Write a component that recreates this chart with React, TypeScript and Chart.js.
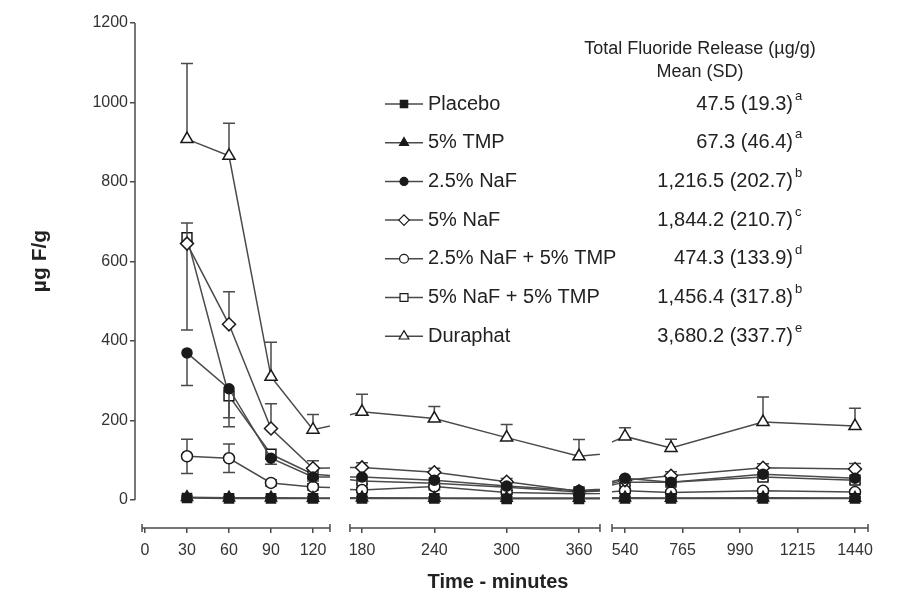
import React, { useEffect, useRef } from 'react';
import { Chart, registerables } from 'chart.js';
import { drawPoint } from 'chart.js/helpers';

Chart.register(...registerables);

// ---------------- data ----------------
const times = [30, 60, 90, 120, 180, 240, 300, 360, 540, 720, 1080, 1440];

const seriesNames = [
  'Placebo',
  '5% TMP',
  '2.5% NaF',
  '5% NaF',
  '2.5% NaF + 5% TMP',
  '5% NaF + 5% TMP',
  'Duraphat',
];

const placebo = [5, 4, 4, 4, 4, 4, 3, 3, 4, 4, 4, 4];
const placeboSD = [2, 2, 2, 2, 2, 2, 2, 2, 2, 2, 2, 2];
const tmp = [7, 6, 6, 5, 6, 5, 5, 5, 6, 5, 6, 5];
const tmpSD = [3, 3, 3, 3, 3, 3, 3, 3, 3, 3, 3, 3];
const naf25 = [370, 280, 105, 58, 58, 50, 35, 24, 55, 45, 65, 55];
const naf25SD = [82, 73, 15, 10, 10, 8, 8, 5, 8, 8, 10, 8];
const naf5 = [645, 442, 180, 80, 82, 70, 46, 22, 50, 61, 81, 78];
const naf5SD = [52, 82, 62, 19, 12, 10, 8, 5, 8, 10, 10, 14];
const naf25tmp = [110, 105, 43, 33, 25, 34, 19, 16, 23, 19, 23, 20];
const naf25tmpSD = [43, 36, 8, 8, 6, 8, 5, 4, 6, 5, 6, 5];
const naf5tmp = [660, 262, 115, 65, 48, 42, 32, 20, 45, 45, 58, 50];
const naf5tmpSD = [232, 78, 12, 10, 8, 8, 6, 5, 8, 8, 8, 8];
const duraphat = [908, 866, 310, 177, 222, 205, 157, 110, 160, 131, 196, 186];
const duraphatSD = [190, 82, 87, 38, 44, 30, 33, 42, 22, 22, 63, 45];

const totals = [
  '47.5 (19.3)',
  '67.3 (46.4)',
  '1,216.5 (202.7)',
  '1,844.2 (210.7)',
  '474.3 (133.9)',
  '1,456.4 (317.8)',
  '3,680.2 (337.7)',
];
const totalSup = ['a', 'a', 'b', 'c', 'd', 'b', 'e'];

const xTicks1 = [0, 30, 60, 90, 120];
const xTicks2 = [180, 240, 300, 360];
const xTicks3 = [540, 765, 990, 1215, 1440];
const yTicks = [0, 200, 400, 600, 800, 1000, 1200];

const tableHeader1 = 'Total Fluoride Release (µg/g)';
const tableHeader2 = 'Mean (SD)';
const yTitle = 'µg F/g';
const xTitle = 'Time - minutes';

const seriesValues = [placebo, tmp, naf25, naf5, naf25tmp, naf5tmp, duraphat];
const seriesSD = [placeboSD, tmpSD, naf25SD, naf5SD, naf25tmpSD, naf5tmpSD, duraphatSD];

// ---------------- styles / layout ----------------
const FONT = '"Liberation Sans", Arial, Helvetica, sans-serif';
const LINE = '#4a4a4a';
const MARK = '#1a1a1a';
const TEXT = '#222';

const markerStyles = [
  { pointStyle: 'rect', radius: 6.5, fill: MARK, dir: 'both' },
  { pointStyle: 'triangle', radius: 6.5, fill: MARK, dir: 'both' },
  { pointStyle: 'circle', radius: 5, fill: MARK, dir: 'below' },
  { pointStyle: 'rectRot', radius: 6.5, fill: '#fff', dir: 'above' },
  { pointStyle: 'circle', radius: 5.5, fill: '#fff', dir: 'both' },
  { pointStyle: 'rect', radius: 7, fill: '#fff', dir: 'below' },
  { pointStyle: 'triangle', radius: 7, fill: '#fff', dir: 'above' },
];

const segments = [
  { id: 'x1', ticks: xTicks1, min: -7.14, max: 139.29, lineMin: -2.1, lineMax: 132.1, weight: 205 },
  { id: 'x2', ticks: xTicks2, min: 161.75, max: 382.4, lineMin: 170.0, lineMax: 377.4, weight: 266 },
  { id: 'x3', ticks: xTicks3, min: 465.65, max: 1545.6, lineMin: 489.1, lineMax: 1490.9, weight: 276 },
];
const segById: Record<string, any> = {};
segments.forEach((s) => (segById[s.id] = s));

function buildDatasets() {
  const out: any[] = [];
  seriesNames.forEach((name, si) => {
    const st = markerStyles[si];
    segments.forEach((seg) => {
      const idx = times
        .map((_, i) => i)
        .filter((i) => times[i] >= seg.lineMin && times[i] <= seg.lineMax);
      const first = Math.max(0, idx[0] - 1);
      const last = Math.min(times.length - 1, idx[idx.length - 1] + 1);
      const pts: any[] = [];
      const sds: number[] = [];
      for (let i = first; i <= last; i++) {
        pts.push({ x: times[i], y: seriesValues[si][i] });
        sds.push(seriesSD[si][i]);
      }
      out.push({
        label: name,
        data: pts,
        sd: sds,
        errDir: st.dir,
        xAxisID: seg.id,
        yAxisID: 'y',
        borderColor: LINE,
        borderWidth: 1.5,
        pointStyle: st.pointStyle,
        pointRadius: st.radius,
        pointBackgroundColor: st.fill,
        pointBorderColor: MARK,
        pointBorderWidth: 1.5,
        tension: 0,
        fill: false,
      });
    });
  });
  return out;
}

const CAP = 6;

const customPlugin = {
  id: 'brokenAxes',
  beforeDatasetDraw(chart: any, args: any) {
    const ds = chart.data.datasets[args.index];
    const seg = segById[ds.xAxisID];
    const xs = chart.scales[ds.xAxisID];
    const ys = chart.scales.y;
    const ctx = chart.ctx;
    ctx.save();
    const l = xs.getPixelForValue(seg.lineMin);
    const r = xs.getPixelForValue(seg.lineMax);
    ctx.beginPath();
    ctx.rect(l, 0, r - l, chart.height);
    ctx.clip();
    ctx.strokeStyle = LINE;
    ctx.lineWidth = 1.5;
    ds.data.forEach((p: any, j: number) => {
      const sd = ds.sd[j];
      const x = xs.getPixelForValue(p.x);
      const y = ys.getPixelForValue(p.y);
      ctx.beginPath();
      if (ds.errDir !== 'below') {
        const yt = ys.getPixelForValue(p.y + sd);
        ctx.moveTo(x, y);
        ctx.lineTo(x, yt);
        ctx.moveTo(x - CAP, yt);
        ctx.lineTo(x + CAP, yt);
      }
      if (ds.errDir !== 'above') {
        const yb = ys.getPixelForValue(p.y - sd);
        ctx.moveTo(x, y);
        ctx.lineTo(x, yb);
        ctx.moveTo(x - CAP, yb);
        ctx.lineTo(x + CAP, yb);
      }
      ctx.stroke();
    });
  },
  afterDatasetDraw(chart: any) {
    chart.ctx.restore();
  },
  beforeDatasetsDraw(chart: any) {
    const ctx = chart.ctx;
    const ys = chart.scales.y;
    const area = chart.chartArea;
    ctx.save();
    ctx.strokeStyle = LINE;
    ctx.lineWidth = 1.5;
    ctx.beginPath();
    ctx.moveTo(area.left, ys.getPixelForValue(yTicks[0]));
    ctx.lineTo(area.left, ys.getPixelForValue(yTicks[yTicks.length - 1]));
    ctx.stroke();
    segments.forEach((seg) => {
      const xs = chart.scales[seg.id];
      const l = xs.getPixelForValue(seg.lineMin);
      const r = xs.getPixelForValue(seg.lineMax);
      const y = area.bottom;
      ctx.beginPath();
      ctx.moveTo(l, y);
      ctx.lineTo(r, y);
      ctx.moveTo(l, y - 4);
      ctx.lineTo(l, y + 4);
      ctx.moveTo(r, y - 4);
      ctx.lineTo(r, y + 4);
      ctx.stroke();
    });
    ctx.restore();
  },
  afterDraw(chart: any) {
    const ctx = chart.ctx;
    ctx.save();
    ctx.fillStyle = TEXT;
    ctx.font = `bold 20px ${FONT}`;
    ctx.textAlign = 'center';
    ctx.textBaseline = 'middle';
    ctx.fillText(xTitle, 498, 582);
    ctx.save();
    ctx.translate(40, 261);
    ctx.rotate(-Math.PI / 2);
    ctx.font = `bold 21px ${FONT}`;
    ctx.fillText(yTitle, 0, 0);
    ctx.restore();

    ctx.font = `18px ${FONT}`;
    ctx.fillText(tableHeader1, 700, 49);
    ctx.fillText(tableHeader2, 700, 72);

    const y0 = 104;
    const dy = 38.7;
    seriesNames.forEach((name, i) => {
      const y = y0 + i * dy;
      const st = markerStyles[i];
      ctx.strokeStyle = LINE;
      ctx.lineWidth = 1.5;
      ctx.beginPath();
      ctx.moveTo(385, y);
      ctx.lineTo(423, y);
      ctx.stroke();
      ctx.fillStyle = st.fill;
      ctx.strokeStyle = MARK;
      ctx.lineWidth = 1.2;
      drawPoint(ctx, { pointStyle: st.pointStyle, radius: st.radius * 0.8, rotation: 0, borderWidth: 1.2 } as any, 404, y);
      ctx.fillStyle = TEXT;
      ctx.font = `20px ${FONT}`;
      ctx.textAlign = 'left';
      ctx.textBaseline = 'middle';
      ctx.fillText(name, 428, y);
      ctx.textAlign = 'right';
      ctx.fillText(totals[i], 793, y);
      ctx.textAlign = 'left';
      ctx.font = `13px ${FONT}`;
      ctx.fillText(totalSup[i], 795, y - 8);
    });
    ctx.restore();
  },
};

function xScale(seg: any) {
  return {
    type: 'linear',
    position: 'bottom',
    stack: 'xs',
    stackWeight: seg.weight,
    min: seg.min,
    max: seg.max,
    afterBuildTicks: (s: any) => {
      s.ticks = seg.ticks.map((v: number) => ({ value: v }));
    },
    afterFit: (s: any) => {
      s.height = 67;
    },
    ticks: {
      autoSkip: false,
      maxRotation: 0,
      minRotation: 0,
      padding: 8,
      color: '#333',
      font: { size: 16, family: FONT },
      callback: (v: any) => String(v),
    },
    grid: {
      display: true,
      drawOnChartArea: false,
      drawTicks: true,
      tickLength: 5,
      color: LINE,
      lineWidth: 1.5,
    },
    border: { display: false },
  };
}

export default function App() {
  const ref = useRef<HTMLCanvasElement>(null);
  useEffect(() => {
    document.body.style.margin = '0';
    Chart.defaults.font.family = FONT;
    const scales: any = {
      y: {
        type: 'linear',
        position: 'left',
        min: -70.4,
        max: 1200,
        afterBuildTicks: (s: any) => {
          s.ticks = yTicks.map((v) => ({ value: v }));
        },
        afterFit: (s: any) => {
          s.width = 135;
        },
        ticks: {
          padding: 2,
          color: '#333',
          font: { size: 16, family: FONT },
          callback: (v: any) => String(v),
        },
        grid: {
          display: true,
          drawOnChartArea: false,
          drawTicks: true,
          tickLength: 5,
          color: LINE,
          lineWidth: 1.5,
        },
        border: { display: false },
      },
    };
    segments.forEach((seg) => {
      scales[seg.id] = xScale(seg);
    });
    const chart = new Chart(ref.current as HTMLCanvasElement, {
      type: 'line',
      data: { datasets: buildDatasets() },
      options: {
        responsive: false,
        animation: false,
        layout: { padding: { top: 23, right: 20, left: 0, bottom: 0 } },
        plugins: {
          legend: { display: false },
          tooltip: { enabled: false },
          title: { display: false },
        },
        scales,
      } as any,
      plugins: [customPlugin as any],
    });
    return () => chart.destroy();
  }, []);
  return (
    <div style={{ width: 902, height: 595, background: '#fff' }}>
      <canvas ref={ref} width={902} height={595} style={{ display: 'block' }} />
    </div>
  );
}
